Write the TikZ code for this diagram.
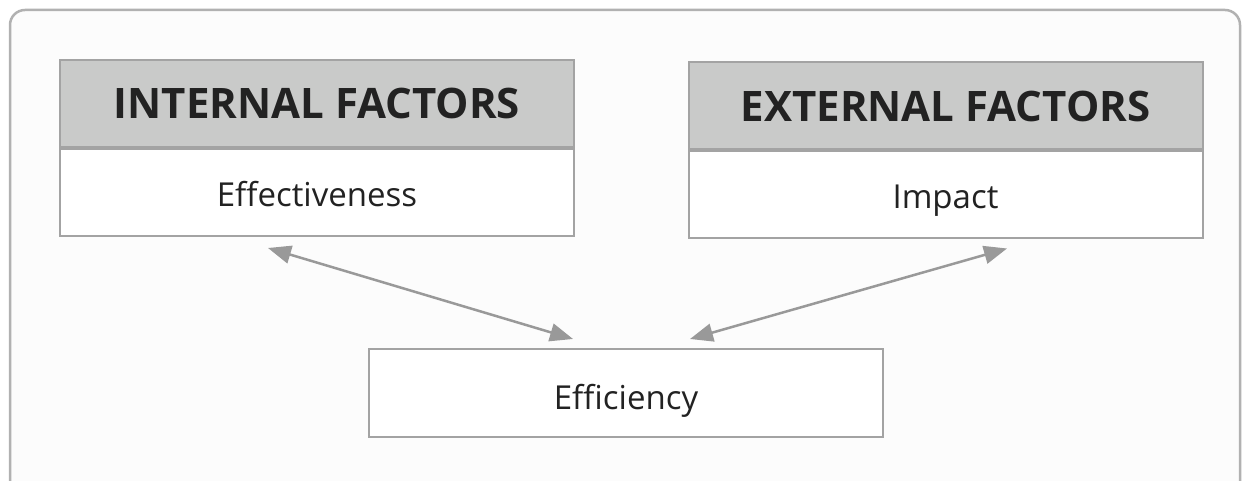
\documentclass[tikz,border=0pt]{standalone}
\usepackage{fontspec}
\setmainfont{Open Sans}
\usepackage{tikz}
\usetikzlibrary{calc,positioning,arrows.meta}
\definecolor{boxline}{HTML}{A3A3A3}
\definecolor{headfill}{HTML}{C9CAC9}
\definecolor{arrowgray}{HTML}{999999}
\definecolor{textdark}{HTML}{222222}
\tikzset{
  headbox/.style={draw=boxline,line width=2pt,fill=headfill,minimum width=514pt,
    minimum height=87pt,inner sep=0pt,text=textdark,font=\bfseries\fontsize{42}{50}\selectfont},
  bodybox/.style={draw=boxline,line width=2pt,fill=white,minimum width=514pt,
    minimum height=87pt,inner sep=0pt,text height=33pt,text depth=5pt,text=textdark,
    font=\fontsize{33}{40}\selectfont},
  twoway/.style={arrowgray,line width=2.5pt,{Triangle[length=23pt,width=18pt]}-{Triangle[length=23pt,width=18pt]}}
}

\begin{document}
\begin{tikzpicture}[x=1pt,y=1pt]
    \useasboundingbox (0,0) rectangle (1250,481);
    \fill[white] (0,0) rectangle (1250,481);
    \draw[boxline!85,line width=2.5pt,rounded corners=15pt,fill=white!99!black] (10,471) rectangle (1240,-30);
    % factor boxes
    \node[headbox] (inthead) at (317,377.5) {INTERNAL FACTORS};
    \node[bodybox,below=0pt of inthead] (intbody) {Effectiveness};
    \node[headbox] (exthead) at (945.5,375) {EXTERNAL FACTORS};
    \node[bodybox,below=0pt of exthead] (extbody) {Impact};
    \node[bodybox,minimum height=88pt,text height=35pt,text depth=1pt] (effic) at (626,88) {Efficiency};
    % links
    \draw[twoway] ([shift={(-49,-11)}]intbody.south) to ([shift={(-53,9)}]effic.north);
    \draw[twoway] ([shift={(61.5,-9)}]extbody.south) to ([shift={(64,9)}]effic.north);
  \end{tikzpicture}
\end{document}
